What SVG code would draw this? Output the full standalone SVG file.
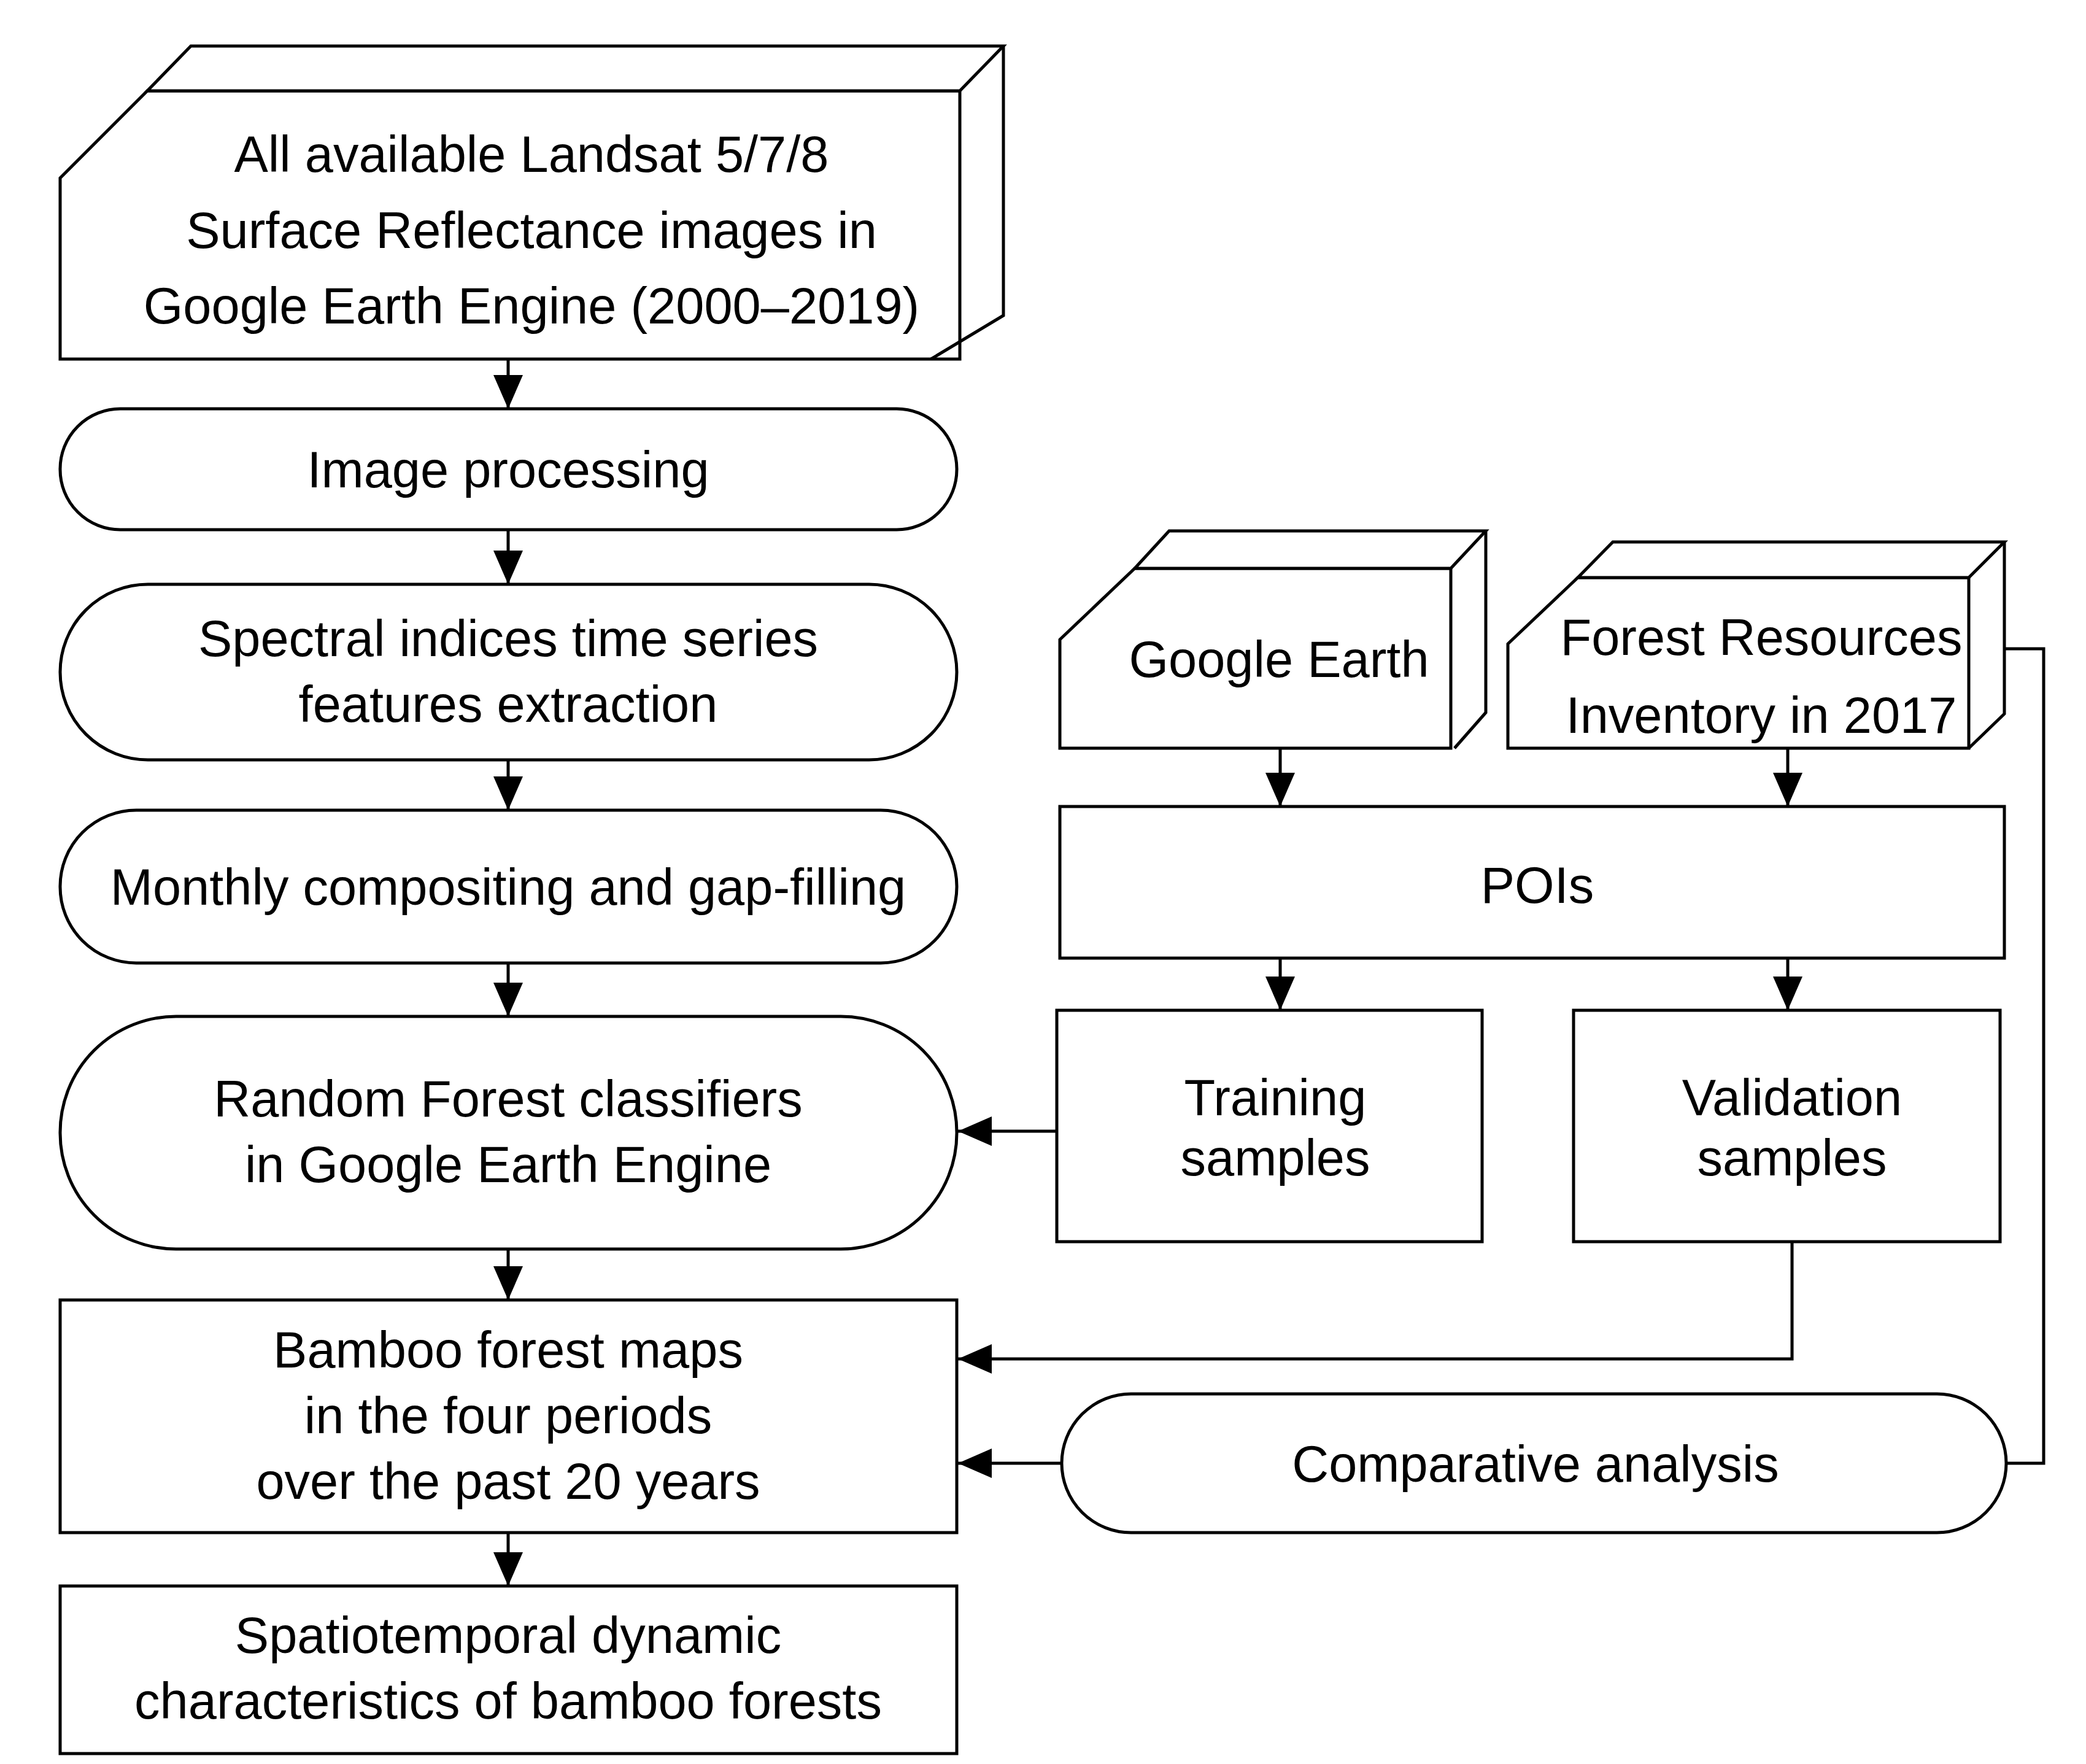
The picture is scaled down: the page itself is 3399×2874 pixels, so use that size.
<svg xmlns="http://www.w3.org/2000/svg" width="3399" height="2874" viewBox="0 0 3399 2874">
<defs>
<style>
.s{fill:#fff;stroke:#000;stroke-width:5;stroke-linejoin:miter}
.l{fill:none;stroke:#000;stroke-width:5}
text{font-family:"Liberation Sans",Arial,sans-serif;font-size:83px;text-anchor:middle;fill:#000}
</style>
<marker id="ah" viewBox="0 0 55 48" refX="55" refY="24" markerWidth="55" markerHeight="48" markerUnits="userSpaceOnUse" orient="auto">
<path d="M0,0 L55,24 L0,48 Z" fill="#000"/>
</marker>
</defs>
<g id="landsat">
<path class="s" d="M98,290 L240,148 L1564,148 L1564,585 L98,585 Z"/>
<path class="s" d="M240,148 L311,75 L1635,75 L1564,148 Z"/>
<path class="l" d="M1635,75 L1635,514 L1517,585"/>
<text x="866" y="280">All available Landsat 5/7/8</text>
<text x="866" y="404">Surface Reflectance images in</text>
<text x="866" y="527">Google Earth Engine (2000–2019)</text>
</g>
<g id="imgproc">
<rect class="s" x="98" y="666" width="1461" height="197" rx="98" ry="98"/>
<text x="828" y="794">Image processing</text>
</g>
<g id="spectral">
<rect class="s" x="98" y="952" width="1461" height="286" rx="143" ry="143"/>
<text x="828" y="1069">Spectral indices time series</text>
<text x="828" y="1176">features extraction</text>
</g>
<g id="monthly">
<rect class="s" x="98" y="1320" width="1461" height="249" rx="124" ry="124"/>
<text x="828" y="1474">Monthly compositing and gap-filling</text>
</g>
<g id="rf">
<rect class="s" x="98" y="1656" width="1461" height="379" rx="189" ry="189"/>
<text x="828" y="1819">Random Forest classifiers</text>
<text x="828" y="1926">in Google Earth Engine</text>
</g>
<g id="bamboo">
<rect class="s" x="98" y="2118" width="1461" height="379"/>
<text x="828" y="2228">Bamboo forest maps</text>
<text x="828" y="2335">in the four periods</text>
<text x="828" y="2442">over the past 20 years</text>
</g>
<g id="spatio">
<rect class="s" x="98" y="2584" width="1461" height="273"/>
<text x="828" y="2693">Spatiotemporal dynamic</text>
<text x="828" y="2800">characteristics of bamboo forests</text>
</g>
<g id="googleearth">
<path class="s" d="M1727,1042 L1849,926 L2364,926 L2364,1219 L1727,1219 Z"/>
<path class="s" d="M1849,926 L1905,865 L2421,865 L2364,926 Z"/>
<path class="l" d="M2421,865 L2421,1161 L2370,1219"/>
<text x="2084" y="1103">Google Earth</text>
</g>
<g id="fri">
<path class="s" d="M2457,1049 L2571,941 L3208,941 L3208,1219 L2457,1219 Z"/>
<path class="s" d="M2571,941 L2628,883 L3266,883 L3208,941 Z"/>
<path class="l" d="M3266,883 L3266,1163 L3208,1219"/>
<text x="2870" y="1067">Forest Resources</text>
<text x="2870" y="1194">Inventory in 2017</text>
</g>
<g id="pois">
<rect class="s" x="1727" y="1314" width="1539" height="247"/>
<text x="2505" y="1471">POIs</text>
</g>
<g id="training">
<rect class="s" x="1722" y="1646" width="693" height="377"/>
<text x="2078" y="1817">Training</text>
<text x="2078" y="1915">samples</text>
</g>
<g id="validation">
<rect class="s" x="2564" y="1646" width="695" height="377"/>
<text x="2920" y="1817">Validation</text>
<text x="2920" y="1915">samples</text>
</g>
<g id="comparative">
<rect class="s" x="1730" y="2271" width="1539" height="226" rx="113" ry="113"/>
<text x="2502" y="2414">Comparative analysis</text>
</g>
<g id="connectors">
<path class="l" marker-end="url(#ah)" d="M828,585 L828,666"/>
<path class="l" marker-end="url(#ah)" d="M828,863 L828,952"/>
<path class="l" marker-end="url(#ah)" d="M828,1238 L828,1320"/>
<path class="l" marker-end="url(#ah)" d="M828,1569 L828,1656"/>
<path class="l" marker-end="url(#ah)" d="M828,2035 L828,2118"/>
<path class="l" marker-end="url(#ah)" d="M828,2497 L828,2584"/>
<path class="l" marker-end="url(#ah)" d="M2086,1219 L2086,1314"/>
<path class="l" marker-end="url(#ah)" d="M2913,1219 L2913,1314"/>
<path class="l" marker-end="url(#ah)" d="M2086,1561 L2086,1646"/>
<path class="l" marker-end="url(#ah)" d="M2913,1561 L2913,1646"/>
<path class="l" marker-end="url(#ah)" d="M1722,1843 L1561,1843"/>
<path class="l" marker-end="url(#ah)" d="M2920,2023 L2920,2214 L1561,2214"/>
<path class="l" marker-end="url(#ah)" d="M1730,2384 L1561,2384"/>
<path class="l" d="M3266,1057 L3330,1057 L3330,2384 L3269,2384"/>
</g>
</svg>
